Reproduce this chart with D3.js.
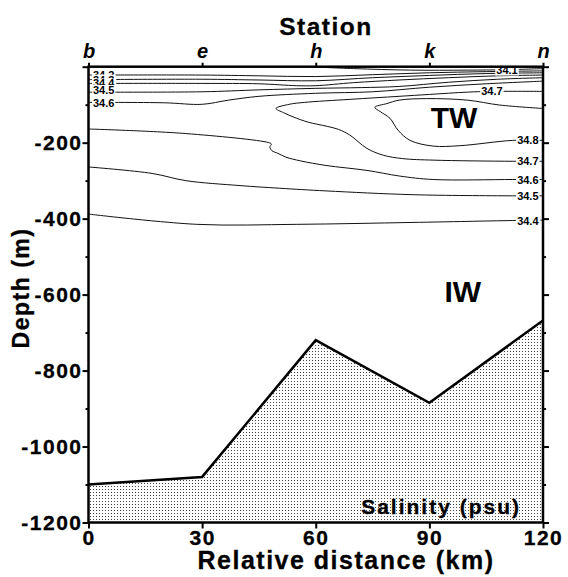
<!DOCTYPE html>
<html>
<head>
<meta charset="utf-8">
<script src="https://cdn.jsdelivr.net/npm/d3@7"></script>
<style>
body { margin: 0; background: #fff; }
svg text { font-family: Arial, "Liberation Sans", sans-serif; font-weight: bold; }
</style>
</head>
<body>
<svg id="chart" width="568" height="577"></svg>
<script>
// stations along the section
var stations = ['b', 'e', 'h', 'k', 'n']
var stationDist = [0, 30, 60, 90, 120]
var distTicks = [0, 30, 60, 90, 120]
var depthTicks = [0, -100, -200, -300, -400, -500, -600, -700, -800, -900, -1000, -1100, -1200]

// sea floor
var bottomDist = [0, 30, 60, 90, 120]
var bottomDepth = [-1100, -1080, -720, -885, -668]

// salinity contours, [distance km, depth m]
var c341 = [[58, 0], [70, -5], [85, -9], [100, -9], [110, -8], [120, -5]]
var c342 = [[0, -22], [30, -22], [45, -24], [60, -26], [75, -21], [90, -16], [105, -13], [120, -11]]
var c343 = [[0, -34], [30, -33], [45, -35], [60, -37], [75, -29], [90, -23], [105, -18], [120, -16]]
var c344 = [[0, -44], [30, -44], [45, -45], [55, -50], [60, -50], [70, -42], [82, -35], [95, -29], [108, -24], [120, -22]]
var c345 = [[0, -67], [30, -66], [45, -61], [60, -57], [72, -55], [82, -52], [95, -41], [108, -33], [120, -29]]
var c346a = [[0, -94], [20, -95], [30, -99], [37, -88], [45, -78], [60, -70], [75, -66], [90, -54], [105, -45], [120, -38]]
var c347 = [[120, -65], [106, -65], [100, -67], [90, -73], [82, -78], [69, -86], [57, -94], [53, -99], [49.5, -110],
  [51.5, -121], [54, -132], [58, -146], [63, -157], [66, -165], [69, -180], [73.5, -215], [77.8, -233], [83, -242],
  [91, -246], [112, -249], [120, -249]]
var c348 = [[120, -110], [108.6, -101], [100, -88], [89.3, -84], [82, -88], [78.8, -97], [75.6, -107], [77, -118],
  [79.6, -136], [81.7, -167], [84.9, -194], [91, -209], [98, -208], [112, -194], [120, -194]]
var c346b = [[0, -164], [25.7, -176], [47.6, -200], [48.3, -204], [47.9, -211], [48.4, -221], [50, -228], [52.1, -238],
  [56, -248], [62.7, -260], [73.5, -273], [82.2, -288], [91, -297], [112, -297], [120, -297]]
var c345b = [[0, -264], [16.8, -281], [25.7, -300], [40, -313], [50.5, -320], [62.7, -327], [85.7, -337], [112, -340], [120, -340]]
var c344b = [[0, -388], [28.6, -415], [55, -415], [85.7, -410], [112, -405], [120, -404]]

var contours = [c341, c342, c343, c344, c345, c346a, c347, c348, c346b, c345b, c344b]

// contour labels
var labelText = ['34.2', '34.3', '34.4', '34.5', '34.6', '34.1', '34.7', '34.8', '34.7', '34.6', '34.5', '34.4']
var labelDist = [4, 4, 4, 4, 4, 110.5, 106.5, 116, 116, 116, 116, 116]
var labelDepth = [-22, -34, -44, -61, -96, -10, -65, -194, -248, -297, -340, -405]

var svg = d3.select('#chart')
var pLeft = 88.5, pRight = 543, pTop = 66.7, pBottom = 522.5

var x = d3.scaleLinear().domain([0, 120]).range([pLeft, pRight])
var y = d3.scaleLinear().domain([0, -1200]).range([pTop, pBottom])

var defs = svg.append('defs')
defs.append('pattern')
  .attr('id', 'dots')
  .attr('width', 3).attr('height', 3)
  .attr('patternUnits', 'userSpaceOnUse')
  .append('rect')
  .attr('width', 1).attr('height', 1)
  .attr('fill', '#444')
defs.append('clipPath').attr('id', 'plot')
  .append('rect')
  .attr('x', pLeft).attr('y', pTop)
  .attr('width', pRight - pLeft).attr('height', pBottom - pTop)

var floor = bottomDist.map(function(d, i) { return [d, bottomDepth[i]] })

var plot = svg.append('g').attr('clip-path', 'url(#plot)')

plot.append('path')
  .datum(floor)
  .attr('fill', 'url(#dots)')
  .attr('d', d3.area()
    .x(function(d) { return x(d[0]) })
    .y0(y(-1200))
    .y1(function(d) { return y(d[1]) }))

var contourLine = d3.line()
  .x(function(d) { return x(d[0]) })
  .y(function(d) { return y(d[1]) })
  .curve(d3.curveCatmullRom.alpha(0.5))

plot.selectAll('path.contour')
  .data(contours)
  .enter().append('path')
  .attr('class', 'contour')
  .attr('fill', 'none')
  .attr('stroke', '#111')
  .attr('stroke-width', 1)
  .attr('d', contourLine)

plot.append('path')
  .datum(floor)
  .attr('fill', 'none')
  .attr('stroke', '#000')
  .attr('stroke-width', 2.5)
  .attr('stroke-linejoin', 'miter')
  .attr('d', d3.line()
    .x(function(d) { return x(d[0]) })
    .y(function(d) { return y(d[1]) }))

// contour labels with white box behind
for (var i = 0; i < labelText.length; i++) {
  var g = svg.append('g')
  var t = g.append('text')
    .attr('x', x(labelDist[i]))
    .attr('y', y(labelDepth[i]) + 4)
    .attr('text-anchor', 'middle')
    .attr('font-size', 11)
    .attr('fill', '#000')
    .text(labelText[i])
  var b = t.node().getBBox()
  g.insert('rect', 'text')
    .attr('x', b.x - 1)
    .attr('y', y(labelDepth[i]) - 5)
    .attr('width', b.width + 2)
    .attr('height', 10)
    .attr('fill', '#fff')
}

// frame
svg.append('rect')
  .attr('x', pLeft).attr('y', pTop)
  .attr('width', pRight - pLeft).attr('height', pBottom - pTop)
  .attr('fill', 'none')
  .attr('stroke', '#000')
  .attr('stroke-width', 2.5)

function isMajor(d) { return d % 200 === 0 }

var leftAxis = svg.append('g')
  .attr('transform', 'translate(' + pLeft + ',0)')
  .call(d3.axisLeft(y).tickValues(depthTicks).tickSize(6).tickPadding(0)
    .tickFormat(function(d) { return isMajor(d) && d !== 0 ? String(d) : '' }))
leftAxis.select('.domain').remove()
leftAxis.selectAll('.tick line')
  .attr('x2', function(d) { return isMajor(d) ? -6 : -3 })
  .attr('stroke-width', 2)
leftAxis.selectAll('text')
  .attr('font-size', 21)
  .attr('letter-spacing', 1.5)
  .attr('fill', '#000')
  .attr('stroke', '#000').attr('stroke-width', 0.3)

var rightAxis = svg.append('g')
  .attr('transform', 'translate(' + pRight + ',0)')
  .call(d3.axisRight(y).tickValues(depthTicks).tickSize(6).tickFormat(''))
rightAxis.select('.domain').remove()
rightAxis.selectAll('.tick line')
  .attr('x2', function(d) { return isMajor(d) ? 6 : 3 })
  .attr('stroke-width', 2)

var bottomAxis = svg.append('g')
  .attr('transform', 'translate(0,' + pBottom + ')')
  .call(d3.axisBottom(x).tickValues(distTicks).tickSize(6).tickPadding(2).tickFormat(function(d) { return String(d) }))
bottomAxis.select('.domain').remove()
bottomAxis.selectAll('.tick line').attr('stroke-width', 2)
bottomAxis.selectAll('text')
  .attr('font-size', 21)
  .attr('letter-spacing', 1.5)
  .attr('fill', '#000')
  .attr('stroke', '#000').attr('stroke-width', 0.3)

var topAxis = svg.append('g')
  .attr('transform', 'translate(0,' + pTop + ')')
  .call(d3.axisTop(x).tickValues(stationDist).tickSize(4).tickPadding(5)
    .tickFormat(function(d, i) { return stations[i] }))
topAxis.select('.domain').remove()
topAxis.selectAll('.tick line').attr('stroke-width', 2)
topAxis.selectAll('text')
  .attr('font-size', 20)
  .attr('font-style', 'italic')
  .attr('fill', '#000')

// titles
svg.append('text')
  .attr('x', 326).attr('y', 35)
  .attr('text-anchor', 'middle')
  .attr('font-size', 24.5)
  .attr('letter-spacing', 1.5)
  .attr('stroke', '#000').attr('stroke-width', 0.3)
  .text('Station')

svg.append('text')
  .attr('x', 346).attr('y', 569)
  .attr('text-anchor', 'middle')
  .attr('font-size', 25)
  .attr('letter-spacing', 1.5)
  .attr('stroke', '#000').attr('stroke-width', 0.3)
  .text('Relative distance (km)')

svg.append('text')
  .attr('transform', 'translate(28.5,288) rotate(-90)')
  .attr('text-anchor', 'middle')
  .attr('font-size', 23)
  .attr('letter-spacing', 1.5)
  .attr('stroke', '#000').attr('stroke-width', 0.3)
  .text('Depth (m)')

svg.append('text')
  .attr('x', x(96.5)).attr('y', y(-162))
  .attr('text-anchor', 'middle')
  .attr('font-size', 30)
  .text('TW')

svg.append('text')
  .attr('x', x(98.8)).attr('y', y(-620))
  .attr('text-anchor', 'middle')
  .attr('font-size', 30)
  .text('IW')

svg.append('text')
  .attr('x', 521).attr('y', y(-1177))
  .attr('text-anchor', 'end')
  .attr('font-size', 21)
  .attr('letter-spacing', 2)
  .attr('stroke', '#000').attr('stroke-width', 0.3)
  .text('Salinity (psu)')
</script>
</body>
</html>
